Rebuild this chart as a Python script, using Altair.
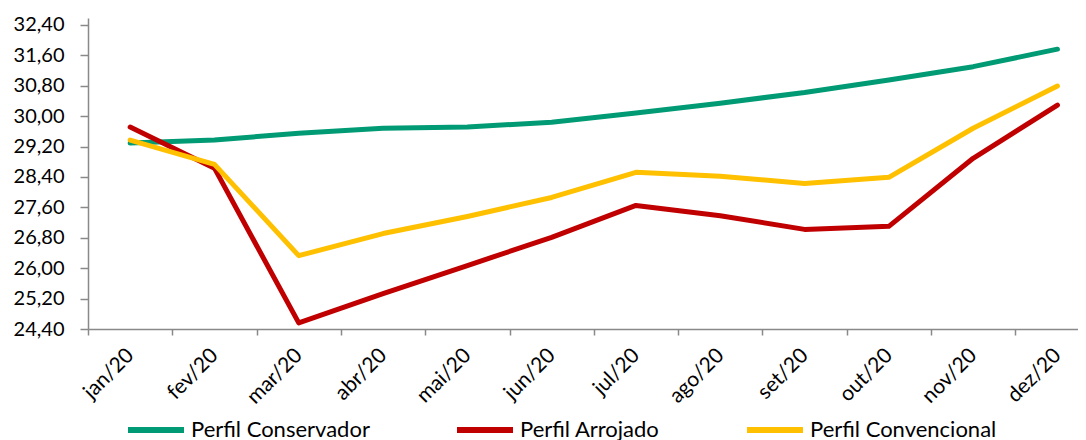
import altair as alt
import pandas as pd

months = ["jan/20", "fev/20", "mar/20", "abr/20", "mai/20", "jun/20",
          "jul/20", "ago/20", "set/20", "out/20", "nov/20", "dez/20"]
series_names = ["Perfil Conservador", "Perfil Arrojado", "Perfil Convencional"]
conservador = [29.29, 29.37, 29.55, 29.68, 29.71, 29.84, 30.08, 30.34, 30.62, 30.95, 31.30, 31.76]
arrojado = [29.71, 28.63, 24.56, 25.33, 26.07, 26.81, 27.65, 27.38, 27.02, 27.10, 28.89, 30.29]
convencional = [29.37, 28.73, 26.33, 26.91, 27.36, 27.86, 28.52, 28.42, 28.23, 28.39, 29.68, 30.79]
y_ticks = [24.4, 25.2, 26.0, 26.8, 27.6, 28.4, 29.2, 30.0, 30.8, 31.6, 32.4]
colors = ["#009B74", "#C00000", "#FFC000"]

rows = []
for name, vals in zip(series_names, [conservador, arrojado, convencional]):
    for m, v in zip(months, vals):
        rows.append({"mes": m, "valor": v, "serie": name})
df = pd.DataFrame(rows)

FONT = "Lato"
AXIS_COLOR = "#898989"

x_enc = alt.X(
    "mes:N", sort=months, title=None,
    scale=alt.Scale(type="band", range=[0, 1011.6], paddingInner=0, paddingOuter=0),
    axis=alt.Axis(
        tickBand="extent", tickSize=6, tickColor=AXIS_COLOR, tickWidth=1.5,
        domainColor=AXIS_COLOR, domainWidth=1.5,
        labelAngle=-45, labelAlign="right", labelBaseline="middle",
        labelPadding=17, labelFont=FONT, labelFontSize=21, labelColor="#000000",
        grid=False,
    ),
)
y_enc = alt.Y(
    "valor:Q", title=None,
    scale=alt.Scale(domain=[24.4, 32.58], nice=False, zero=False),
    axis=alt.Axis(
        values=y_ticks, tickSize=8, tickColor=AXIS_COLOR, tickWidth=1.5,
        domainColor=AXIS_COLOR, domainWidth=1.5,
        labelExpr="replace(format(datum.value, '.2f'), '.', ',')",
        labelPadding=16, labelFont=FONT, labelFontSize=20, labelColor="#000000",
        grid=False,
    ),
)
color_enc = alt.Color(
    "serie:N", title=None,
    scale=alt.Scale(domain=series_names, range=colors),
    legend=alt.Legend(
        orient="none", legendX=37, legendY=381, direction="horizontal",
        symbolType="stroke", symbolSize=3136, symbolStrokeWidth=6,
        labelFont=FONT, labelFontSize=22, labelColor="#000000", labelLimit=400,
        columnPadding=75, labelOffset=4, padding=0,
    ),
)

base = alt.Chart(df)
layers = [
    base.transform_filter(alt.datum.serie == name)
    .mark_line(strokeWidth=5, strokeCap="round", strokeJoin="round")
    .encode(x=x_enc, y=y_enc, color=color_enc)
    for name in series_names
]

chart = alt.layer(*layers).properties(
    width=990, height=311,
    autosize=alt.AutoSizeParams(type="none"),
    padding={"left": 80, "top": 10, "right": 0, "bottom": 111},
    background="white",
).configure_view(stroke=None)

chart.save("out.html", embed_options={"renderer": "svg", "actions": False})
